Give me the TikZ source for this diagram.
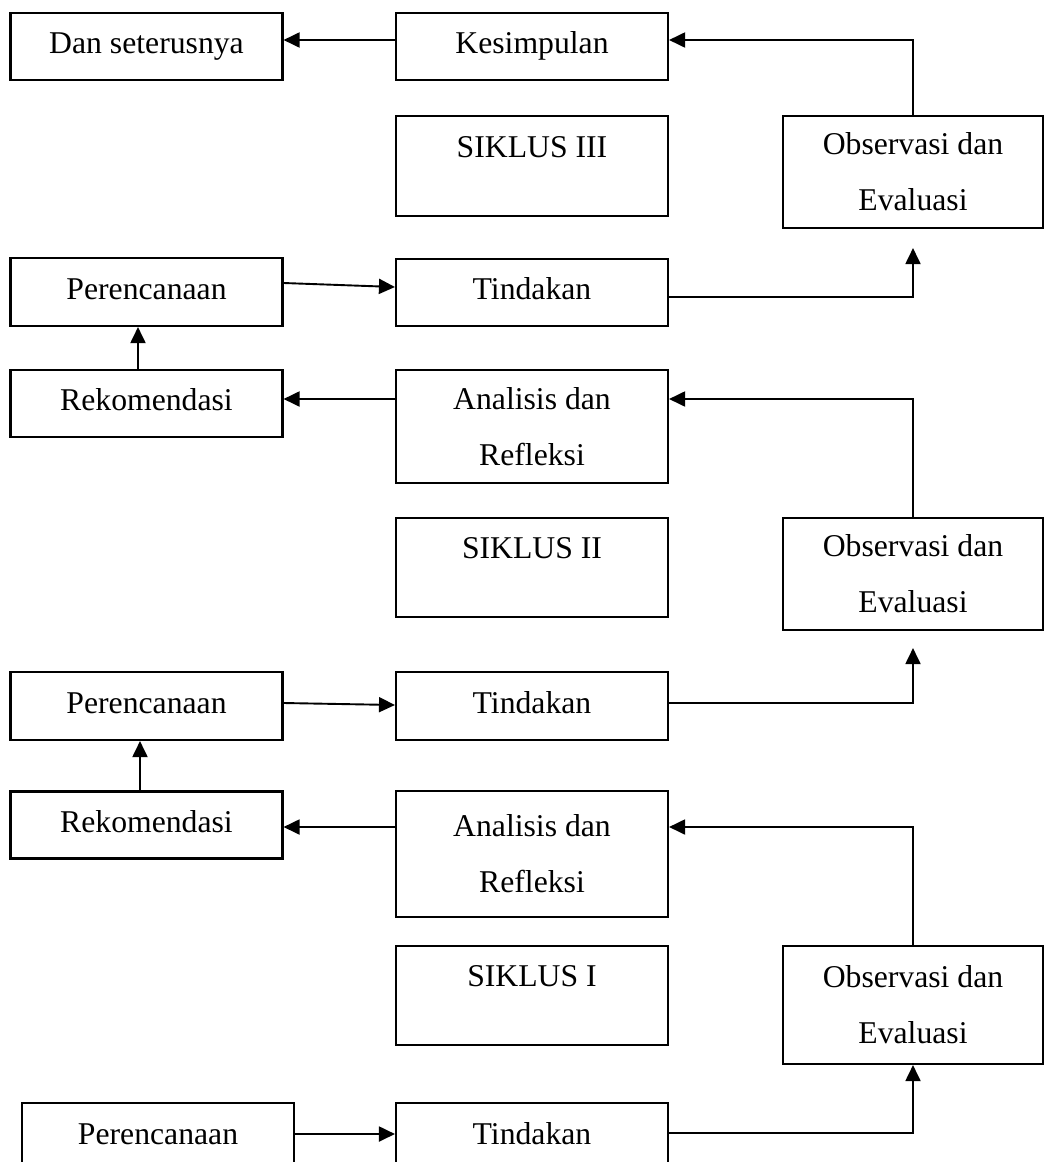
\documentclass[tikz,border=0pt]{standalone}
\usepackage{fontspec}
\setmainfont{Liberation Serif}
\usetikzlibrary{arrows.meta}
\tikzset{box/.style={draw, line width=2.1pt, inner sep=0pt, align=center,
			minimum width=272pt, font=\fontsize{31.7}{56}\selectfont}}
\tikzset{onebox/.style={box, text height=21.9pt, text depth=7pt}}
\tikzset{sikbox/.style={box, text height=22pt, text depth=40pt}}
\tikzset{arr/.style={line width=1.9pt, -{Triangle[length=16pt,width=15pt]}}}

\begin{document}
\begin{tikzpicture}[x=1pt, y=-1pt]
	\useasboundingbox (0,0) rectangle (1044,1162);
	
	\node[onebox, minimum height=67pt] (dan) at (146.5,46.5) {Dan seterusnya};
	\node[onebox, minimum height=67pt] (kes3) at (532,46.5) {Kesimpulan};
	\node[sikbox, minimum height=100pt] (sik3) at (532,166) {SIKLUS III};
	\node[box, minimum width=260pt, minimum height=112pt] (obs3) at (913,172) {Observasi dan\\Evaluasi};
	\node[onebox, minimum height=68pt] (per3) at (146.5,292) {Perencanaan};
	\node[onebox, minimum height=67pt] (tin3) at (532,292.5) {Tindakan};
	
	\node[onebox, minimum height=67pt] (rek2) at (146.5,403.5) {Rekomendasi};
	\node[box, minimum height=113pt] (ana2) at (532,426.5) {Analisis dan\\Refleksi};
	\node[sikbox, minimum height=99pt] (sik2) at (532,567.5) {SIKLUS II};
	\node[box, minimum width=260pt, minimum height=112pt] (obs2) at (913,574) {Observasi dan\\Evaluasi};
	\node[onebox, minimum height=68pt] (per2) at (146.5,706) {Perencanaan};
	\node[onebox, minimum height=68pt] (tin2) at (532,706) {Tindakan};
	
	\node[onebox, minimum height=67pt] (rek1) at (146.5,825) {Rekomendasi};
	\node[box, minimum height=126pt] (ana1) at (532,854) {Analisis dan\\Refleksi};
	\node[sikbox, minimum height=99pt] (sik1) at (532,995.5) {SIKLUS I};
	\node[box, minimum width=260pt, minimum height=118pt] (obs1) at (913,1005) {Observasi dan\\Evaluasi};
	\node[onebox, minimum height=68pt] (per1) at (158,1137) {Perencanaan};
	\node[onebox, minimum height=68pt] (tin1) at (532,1137) {Tindakan};
	
	\draw[arr] ([yshift=6.5pt]kes3.west) -- ([yshift=6.5pt]dan.east);
	\draw[arr] (obs3.north) |- ([yshift=6.5pt]kes3.east);
	\draw[arr] ([yshift=9pt]per3.east) -- ([yshift=5.5pt]tin3.west);
	\draw[arr, shorten >=19pt] ([yshift=-4.5pt]tin3.east) -| (obs3.south);
	
	\draw[arr] ([xshift=-8.5pt]rek2.north) -- ([xshift=-8.5pt]per3.south);
	\draw[arr] ([yshift=27.5pt]ana2.west) -- ([yshift=4.5pt]rek2.east);
	\draw[arr] (obs2.north) |- ([yshift=27.5pt]ana2.east);
	\draw[arr] ([yshift=3pt]per2.east) -- ([yshift=1pt]tin2.west);
	\draw[arr, shorten >=17pt] ([yshift=3pt]tin2.east) -| (obs2.south);
	
	\draw[arr] ([xshift=-6.5pt]rek1.north) -- ([xshift=-6.5pt]per2.south);
	\draw[arr] ([yshift=27pt]ana1.west) -- ([yshift=-2pt]rek1.east);
	\draw[arr] (obs1.north) |- ([yshift=27pt]ana1.east);
	\draw[arr] ([yshift=3pt]per1.east) -- ([yshift=3pt]tin1.west);
	\draw[arr] ([yshift=4pt]tin1.east) -| (obs1.south);
	
\end{tikzpicture}
\end{document}
